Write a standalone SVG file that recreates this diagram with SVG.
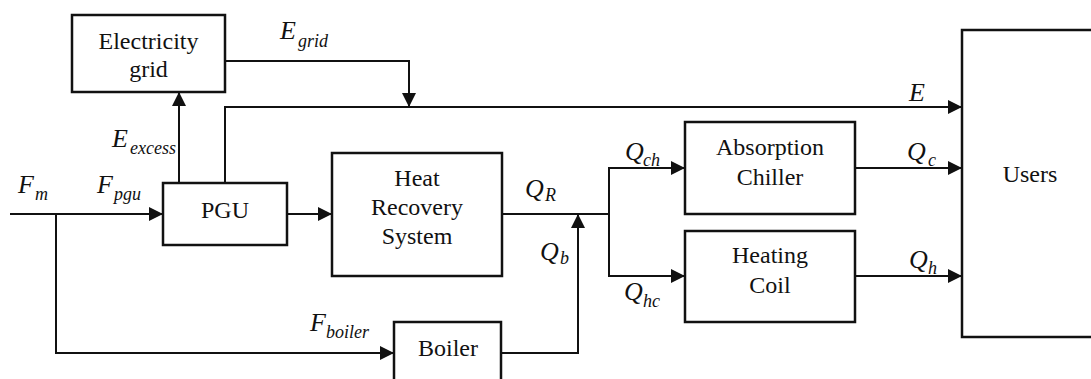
<svg xmlns="http://www.w3.org/2000/svg" width="1091" height="379" viewBox="0 0 1091 379" font-family="Liberation Serif, DejaVu Serif, serif">
<style>
.box{fill:#fff;stroke:#111;stroke-width:2.5}
.lbl{font-size:24px;fill:#111;text-anchor:middle}
.m{font-style:italic;font-size:26px;fill:#111}
.s{font-size:18px}
.c{fill:none;stroke:#111;stroke-width:2}
</style>
<defs>
<marker id="ah" markerUnits="userSpaceOnUse" markerWidth="14" markerHeight="14" refX="14" refY="7" orient="auto">
<path d="M0,0 L14,7 L0,14 z" fill="#111"/>
</marker>
</defs>
<rect width="1091" height="379" fill="#fff"/>
<g id="connectors">
<path class="c" d="M10,214 H163" marker-end="url(#ah)"/>
<path class="c" d="M56,214 V353 H394" marker-end="url(#ah)"/>
<path class="c" d="M179,183 V92" marker-end="url(#ah)"/>
<path class="c" d="M225,183 V107 H962" marker-end="url(#ah)"/>
<path class="c" d="M225,61 H409 V107" marker-end="url(#ah)"/>
<path class="c" d="M287,214 H332" marker-end="url(#ah)"/>
<path class="c" d="M502,214 H609"/>
<path class="c" d="M501,353 H578 V214" marker-end="url(#ah)"/>
<path class="c" d="M609,214 V168 H685" marker-end="url(#ah)"/>
<path class="c" d="M609,214 V276 H685" marker-end="url(#ah)"/>
<path class="c" d="M855,168 H962" marker-end="url(#ah)"/>
<path class="c" d="M855,276 H962" marker-end="url(#ah)"/>
</g>
<g id="grid"><rect class="box" x="72" y="15" width="153" height="77"/><text class="lbl" x="148.5" y="49">Electricity</text><text class="lbl" x="148.5" y="77">grid</text></g>
<g id="pgu"><rect class="box" x="163" y="183" width="124" height="62"/><text class="lbl" x="225" y="218">PGU</text></g>
<g id="hrs"><rect class="box" x="332" y="153" width="170" height="123"/><text class="lbl" x="417" y="186">Heat</text><text class="lbl" x="417" y="215">Recovery</text><text class="lbl" x="417" y="244">System</text></g>
<g id="boiler"><rect class="box" x="394" y="322" width="107" height="80"/><text class="lbl" x="448" y="356">Boiler</text></g>
<g id="chiller"><rect class="box" x="685" y="122" width="170" height="92"/><text class="lbl" x="770" y="155">Absorption</text><text class="lbl" x="770" y="185">Chiller</text></g>
<g id="coil"><rect class="box" x="685" y="231" width="170" height="91"/><text class="lbl" x="770" y="263">Heating</text><text class="lbl" x="770" y="293">Coil</text></g>
<g id="users"><rect class="box" x="962" y="30" width="200" height="307"/><text class="lbl" x="1030" y="182">Users</text></g>
<g id="labels">
<text class="m"><tspan x="18" y="193">F</tspan><tspan class="s" x="35" y="200">m</tspan></text>
<text class="m"><tspan x="97" y="193">F</tspan><tspan class="s" x="114" y="200">pgu</tspan></text>
<text class="m"><tspan x="112" y="147">E</tspan><tspan class="s" x="130" y="154">excess</tspan></text>
<text class="m"><tspan x="280" y="39">E</tspan><tspan class="s" x="298" y="47">grid</tspan></text>
<text class="m" x="909" y="101">E</text>
<text class="m"><tspan x="525" y="197">Q</tspan><tspan class="s" x="545" y="201">R</tspan></text>
<text class="m"><tspan x="540" y="260">Q</tspan><tspan class="s" x="560" y="264">b</tspan></text>
<text class="m"><tspan x="625" y="160">Q</tspan><tspan class="s" x="643" y="166">ch</tspan></text>
<text class="m"><tspan x="624" y="300">Q</tspan><tspan class="s" x="643" y="307">hc</tspan></text>
<text class="m"><tspan x="907" y="160">Q</tspan><tspan class="s" x="928" y="166">c</tspan></text>
<text class="m"><tspan x="909" y="268">Q</tspan><tspan class="s" x="928" y="274">h</tspan></text>
<text class="m"><tspan x="310" y="331">F</tspan><tspan class="s" x="326" y="338">boiler</tspan></text>
</g>
</svg>
